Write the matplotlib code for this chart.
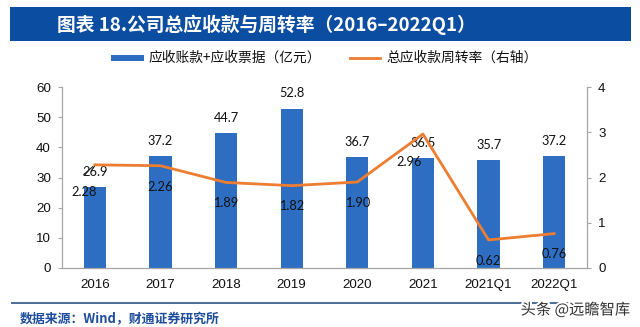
import matplotlib
matplotlib.use("Agg")
import matplotlib.pyplot as plt
from matplotlib.patches import Rectangle
from matplotlib.lines import Line2D
from matplotlib.font_manager import FontProperties
import matplotlib.patheffects as pe

plt.rcParams['font.family'] = ['Noto Sans CJK SC', 'DejaVu Sans']

categories = ["2016", "2017", "2018", "2019", "2020", "2021", "2021Q1", "2022Q1"]
receivables = [26.9, 37.2, 44.7, 52.8, 36.7, 36.5, 35.7, 37.2]
turnover = [2.28, 2.26, 1.89, 1.82, 1.90, 2.96, 0.62, 0.76]
left_ticks = [0, 10, 20, 30, 40, 50, 60]
right_ticks = [0, 1, 2, 3, 4]

BAR_BLUE = "#2E6EC2"
LINE_ORANGE = "#ED7D31"
BANNER_BLUE = "#0B4DA1"
AXIS_GREY = "#A6A6A6"

tick_font = FontProperties(family="Liberation Sans", size=9.6)
label_font = FontProperties(family="Lato", size=9.2)

fig = plt.figure(figsize=(6.4, 3.27), dpi=100)
W, H = 640, 327

def fx(px):
    return px / W

def fy(py):
    return 1 - py / H

# title banner
fig.patches.append(Rectangle((fx(10), fy(41)), fx(621), 34 / H, transform=fig.transFigure,
                             facecolor=BANNER_BLUE, edgecolor="none", zorder=0))
fig.text(fx(57), fy(24.5), "图表 18.公司总应收款与周转率（2016–2022Q1）", color="white",
         fontsize=13.5, fontweight="bold", va="center", ha="left")

ax = fig.add_axes([fx(62), fy(268), fx(587 - 62), (268 - 87) / H])
x = list(range(len(categories)))
ax.bar(x, receivables, width=0.34, color=BAR_BLUE, zorder=2)
ax.set_xlim(-0.5, len(categories) - 0.5)
ax.set_ylim(0, 60)
ax.set_yticks(left_ticks)
ax.set_yticklabels([str(t) for t in left_ticks], fontproperties=tick_font, color="#111111")
ax.set_xticks(x)
ax.set_xticklabels(categories, fontproperties=tick_font, color="#111111")
ax.tick_params(axis="y", length=3, color=AXIS_GREY, pad=5)
ax.tick_params(axis="x", length=0, pad=8)
for side in ("top", "right"):
    ax.spines[side].set_visible(False)
for side in ("left", "bottom"):
    ax.spines[side].set_color(AXIS_GREY)
    ax.spines[side].set_linewidth(0.9)

ax2 = ax.twinx()
ax2.plot(x, turnover, color=LINE_ORANGE, linewidth=2.0, zorder=3, solid_joinstyle="round")
ax2.set_ylim(0, 4)
ax2.set_yticks(right_ticks)
ax2.set_yticklabels([str(t) for t in right_ticks], fontproperties=tick_font, color="#111111")
ax2.tick_params(axis="y", length=3, color=AXIS_GREY, pad=5)
for side in ("top", "left", "bottom"):
    ax2.spines[side].set_visible(False)
ax2.spines["right"].set_color(AXIS_GREY)
ax2.spines["right"].set_linewidth(0.9)

# bar value labels
for i, v in enumerate(receivables):
    ax.annotate(f"{v:.1f}", (i, v), xytext=(0, 11), textcoords="offset points",
                ha="center", va="center", fontproperties=label_font, color="#111111", zorder=5)

# turnover value labels (below the points)
offsets = {0: (-8, -19.5), 5: (-10, -20)}
for i, v in enumerate(turnover):
    dx, dy = offsets.get(i, (0, -15))
    ax2.annotate(f"{v:.2f}", (i, v), xytext=(dx, dy), textcoords="offset points",
                 ha="center", va="center", fontproperties=label_font, color="#111111", zorder=5)
# leader line for the first turnover label
ax2.annotate("", (0, turnover[0]), xytext=(-8, -7), textcoords="offset points",
             arrowprops=dict(arrowstyle="-", color="#222222", lw=0.8, shrinkA=0, shrinkB=2))

# legend
fig.patches.append(Rectangle((fx(111), fy(61)), fx(33), 6 / H, transform=fig.transFigure,
                             facecolor=BAR_BLUE, edgecolor="none"))
fig.text(fx(148), fy(57.5), "应收账款+应收票据（亿元）", fontsize=9.9, va="center", ha="left", color="#111111")
fig.lines.append(Line2D([fx(350), fx(380)], [fy(57.5), fy(57.5)], transform=fig.transFigure,
                        color=LINE_ORANGE, linewidth=2.0))
fig.text(fx(386), fy(57.5), "总应收款周转率（右轴）", fontsize=9.9, va="center", ha="left", color="#111111")

# footer
fig.lines.append(Line2D([fx(12), fx(625)], [fy(303), fy(303)], transform=fig.transFigure,
                        color="#4A6C96", linewidth=1.4))
fig.text(fx(20), fy(319), "数据来源：Wind，财通证券研究所", fontsize=9.3, fontweight="bold",
         color="#1F4E9E", va="center", ha="left")
fig.text(fx(630), fy(310), "头条 @远瞻智库", fontsize=11, color="#333333", va="center", ha="right",
         path_effects=[pe.withStroke(linewidth=3, foreground="white")], zorder=10)

fig.savefig("out.png", dpi=100)
